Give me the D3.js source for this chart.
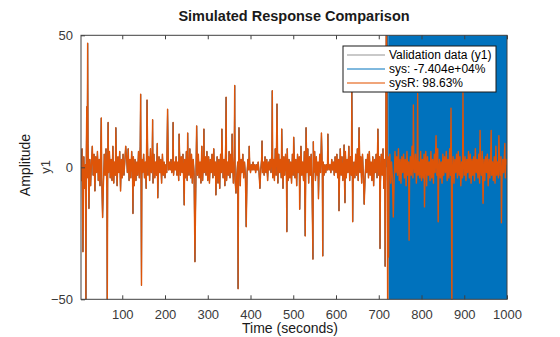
<!DOCTYPE html>
<html>
<head>
<meta charset="utf-8">
<script src="https://cdn.jsdelivr.net/npm/d3@7"></script>
<style>
  body { margin: 0; background: #fff; }
  text { font-family: "Liberation Sans", Arial, Helvetica, sans-serif; }
</style>
</head>
<body>
<div id="chart"></div>
<script>
// measured output, one sample every 2 s starting at t = 2
var t0 = 2, step = 2;
var baseline = [
  2, -5, 7, -3, 4, -8, 1, 6, -4, 9,   -6, 3, -7, 2, 8, -3, 5, -9, 4, -2,   6, -5, 3, -7, 10, -4, 2, -6, 5, -3,   7, -8, 4, -2, 6, -4, 3, -5, 8, -6,   2, -3, 5, -7, 4, -2, 6, -9, 3, -4,
  5, -3, 2, -6, 4, -2, 7, -5, 3, -4,   6, -2, 4, -7, 3, -5, 2, -3, 6, -4,   8, -6, 3, -2, 5, -4, 2, -8, 6, -3,   4, -5, 7, -2, 3, -6, 5, -4, 2, -3,   9, -5, 4, -2, 3, -6, 5, -3, 2, -4,
  1, -2, 1, -1, 2, -1, 3, -2, 1, -3,   2, -1, 4, -3, 2, -5, 6, -3, 4, -2,   5, -7, 3, -4, 6, -5, 2, -3, 7, -4,   5, -6, 3, -2, 4, -8, 6, -3, 5, -4,   2, -6, 8, -5, 3, -2, 4, -3, 6, -5,
  4, -6, 3, -2, 5, -4, 7, -3, 2, -5,   4, -6, 3, -8, 5, -2, 6, -4, 3, -7,   9, -5, 2, -3, 6, -4, 5, -2, 3, -6,   4, -5, 8, -3, 2, -4, 6, -7, 3, -2,   5, -4, 2, -3, 1, -2, 3, -1, 2, -2,
  1, -1, 2, -1, 1, -2, 1, -1, 2, -2,   1, -1, 3, -2, 2, -3, 4, -2, 3, -5,   2, -1, 3, -2, 6, -4, 3, -5, 7, -3,   4, -6, 5, -2, 3, -4, 6, -8, 4, -3,   5, -2, 7, -5, 3, -4, 2, -6, 5, -3,
  6, -4, 3, -7, 5, -2, 4, -6, 8, -3,   2, -5, 6, -4, 3, -2, 7, -6, 4, -3,   5, -8, 3, -2, 6, -5, 4, -3, 2, -4,   5, -2, 3, -1, 2, -3, 1, -2, 1, -1,   2, -1, 1, -2, 3, -1, 2, -3, 4, -2,
  5, -4, 3, -6, 7, -3, 4, -5, 2, -7,   6, -4, 3, -2, 8, -5, 4, -3, 6, -6,   2, -4, 5, -3, 7, -5, 3, -2, 4, -6,   5, -3, 2, -4, 3, -2, 5, -4, 6, -3,   2, -5, 4, -7, 3, -2, 5, -4, 6, -3,
  4, -6, 5, -3, 7, -8, 3, -4, 6, -5,   4, -3, 5, -6, 2, -4, 3, -5, 6, -2,   4, -3, 7, -5, 3, -6, 4, -2, 5, -4,   3, -7, 6, -3, 2, -5, 4, -3, 8, -4,   3, -2, 5, -6, 4, -3, 2, -4, 6, -5,
  3, -4, 5, -2, 6, -7, 4, -3, 2, -5,   6, -4, 3, -6, 5, -2, 4, -3, 7, -5,   3, -4, 2, -6, 5, -3, 4, -2, 6, -5,   3, -4, 7, -3, 2, -5, 4, -6, 3, -2,   5, -4, 6, -3, 4, -7, 2, -4, 5, -3,
  4, -5, 3, -2, 6, -4, 5, -6, 3, -3,   4, -5, 7, -2, 3, -4, 5, -6, 2, -3,   6, -4, 3, -5, 4, -2, 5, -7, 3, -4,   6, -3, 2, -5, 4, -6, 8, -3, 2, -4,   5, -3, 4, -6, 3, -2, 5, -4, 3, 1
];

// isolated spikes
var spikeTimes = [8, 15, 17, 19, 22, 51, 54, 65, 67, 85, 108, 125, 143, 145, 158, 171, 183,
  206, 219, 233, 245, 253, 270, 274, 291, 319, 333, 343, 357, 363, 366, 371, 373, 390, 397,
  422, 427, 451, 462, 473, 485, 501, 515, 528, 530, 546, 547, 559, 566, 569, 581, 607, 619,
  621, 637, 639, 654, 666, 698, 703, 715, 718, 721, 723, 734, 771, 781, 791, 807, 834, 839,
  869, 871, 897, 937, 944, 963, 981, 987, 995];
var spikeValues = [-32, -56, 23, 47, -15.6, 18.7, -19, -54, 17, 15, 8, -17.5, 27.7, -44.7, 25.5, 18, -11.6,
  22, 17, 12.6, -14.3, 13, -35.8, 15.7, 14.5, -10.5, 14.5, 26.6, 12.6, 31, -9.8, -46, 15, -22.5, 8,
  -8, 10, 29, 24, 14.5, -24.4, 11.4, -15.9, -26, 15, -34.8, 9.7, -11.9, 13, -33.6, 12.6, -16.5, 8.5,
  -13.4, 28.5, -20.6, 15, -14, 14.5, -30.8, -37.5, 70, -70, -34, -18.8, -27.6, 23.6, 28, -15, 12, -20.6,
  22.4, -60, 28.6, 14, -13.6, 14, 12, -21, 9];

// model "sys" runs away after t = 720 (values in thousands, every 4 s)
var sysStart = 720, sysStep = 4;
var sysDivergeK = [0, 24, -29, 33, -26, 31, -35, 28, -30, 36, -27, 32, -34, 29, -31, 37, -28, 30,
  -33, 35, -29, 27, -36, 32, -30, 34, -28, 31, -37, 29, -32, 35, -27, 33, -30, 28, -34, 36, -31,
  29, -33, 30, -28, 37, -35, 32, -29, 31, -36, 28, -30, 34, -32, 27, -33, 35, -29, 30, -34, 31,
  -28, 36, -32, 29, -35, 33, -30, 28, -31, 34, -27];

var xTicks = [100, 200, 300, 400, 500, 600, 700, 800, 900, 1000];
var yTicks = [-50, 0, 50];
var legendLabels = ["Validation data (y1)", "sys: -7.404e+04%", "sysR: 98.63%"];
var legendColors = ["#c9c9c9", "#0072BD", "#f0a57a"];

var width = 560, height = 337;
var margin = { top: 35.3, left: 81, right: 53, bottom: 37.7 };
var iw = width - margin.left - margin.right,
    ih = height - margin.top - margin.bottom;

var pts = new Map();
baseline.forEach((v, i) => pts.set(t0 + i * step, v));
spikeTimes.forEach((t, i) => pts.set(t, spikeValues[i]));
var data = Array.from(pts, ([t, v]) => ({ t: t, v: v })).sort((a, b) => a.t - b.t);

var sysFit = data.filter(d => d.t <= sysStart);
var sysRun = sysDivergeK.map((k, i) => ({ t: sysStart + i * sysStep, v: k * 1000 }));

var x = d3.scaleLinear().domain([3.5, 1000]).range([0, iw]);
var y = d3.scaleLinear().domain([-50, 50]).range([ih, 0]);

var svg = d3.select("#chart").append("svg")
    .attr("width", width)
    .attr("height", height);

var g = svg.append("g")
    .attr("transform", "translate(" + margin.left + "," + margin.top + ")");

svg.append("defs").append("clipPath").attr("id", "clip")
  .append("rect").attr("width", iw).attr("height", ih);

var line = d3.line().x(d => x(d.t)).y(d => y(d.v));

var plot = g.append("g").attr("clip-path", "url(#clip)");

plot.append("path").datum(data)
    .attr("d", line).attr("fill", "none")
    .attr("stroke", "#b0b0b0").attr("stroke-width", 1);

plot.append("path").datum(sysFit)
    .attr("d", line).attr("fill", "none")
    .attr("stroke", "#0072BD").attr("stroke-width", 1);
plot.append("path").datum(sysRun)
    .attr("d", line).attr("fill", "none")
    .attr("stroke", "#0072BD").attr("stroke-width", 2.3);

plot.append("path").datum(data)
    .attr("d", line).attr("fill", "none")
    .attr("stroke", "#DE5408").attr("stroke-width", 1.4)
    .attr("stroke-linejoin", "round");

// axes box, MATLAB style inward ticks
var axisColor = "#404040";
g.append("rect").attr("width", iw).attr("height", ih)
    .attr("fill", "none").attr("stroke", axisColor).attr("stroke-width", 1);

g.append("g").attr("transform", "translate(0," + ih + ")")
    .call(d3.axisBottom(x).tickValues(xTicks).tickFormat(d3.format("d"))
      .tickSizeInner(-4).tickSizeOuter(0).tickPadding(10))
    .call(a => a.select(".domain").remove());
g.append("g")
    .call(d3.axisTop(x).tickValues(xTicks).tickSizeInner(-4).tickSizeOuter(0).tickFormat(""))
    .call(a => a.select(".domain").remove());
g.append("g")
    .call(d3.axisLeft(y).tickValues(yTicks).tickSizeInner(-4).tickSizeOuter(0).tickPadding(8))
    .call(a => a.select(".domain").remove());

g.selectAll(".tick line").attr("stroke", axisColor);
g.selectAll(".tick text")
    .attr("fill", "#3a3a3a")
    .style("font-size", "13px")
    .style("font-family", "'Liberation Sans', Arial, sans-serif");

// titles
svg.append("text")
    .attr("x", margin.left + iw / 2).attr("y", 21)
    .attr("text-anchor", "middle")
    .style("font-size", "14.5px").style("font-weight", "bold")
    .attr("fill", "#1a1a1a")
    .text("Simulated Response Comparison");

svg.append("text")
    .attr("x", 290).attr("y", 333)
    .attr("text-anchor", "middle")
    .style("font-size", "14px")
    .attr("fill", "#1a1a1a")
    .text("Time (seconds)");

svg.append("text")
    .attr("transform", "translate(30,165) rotate(-90)")
    .attr("text-anchor", "middle")
    .style("font-size", "14px")
    .attr("fill", "#1a1a1a")
    .text("Amplitude");

svg.append("text")
    .attr("transform", "translate(50,167) rotate(-90)")
    .attr("text-anchor", "middle")
    .style("font-size", "13px")
    .attr("fill", "#3a3a3a")
    .text("y1");

// legend
var lg = svg.append("g").attr("transform", "translate(343,46)");
lg.append("rect").attr("width", 153).attr("height", 46)
    .attr("fill", "#fff").attr("stroke", "#1a1a1a").attr("stroke-width", 1);

var rows = lg.selectAll(".row").data(legendLabels).enter().append("g")
    .attr("transform", (d, i) => "translate(0," + (9 + i * 14) + ")");
rows.append("line")
    .attr("x1", 4).attr("x2", 42)
    .attr("stroke", (d, i) => legendColors[i])
    .attr("stroke-width", (d, i) => i === 1 ? 1 : 2);
rows.append("text")
    .attr("x", 46).attr("dy", "0.35em")
    .style("font-size", "12px")
    .attr("fill", "#000")
    .text(d => d);
</script>
</body>
</html>
